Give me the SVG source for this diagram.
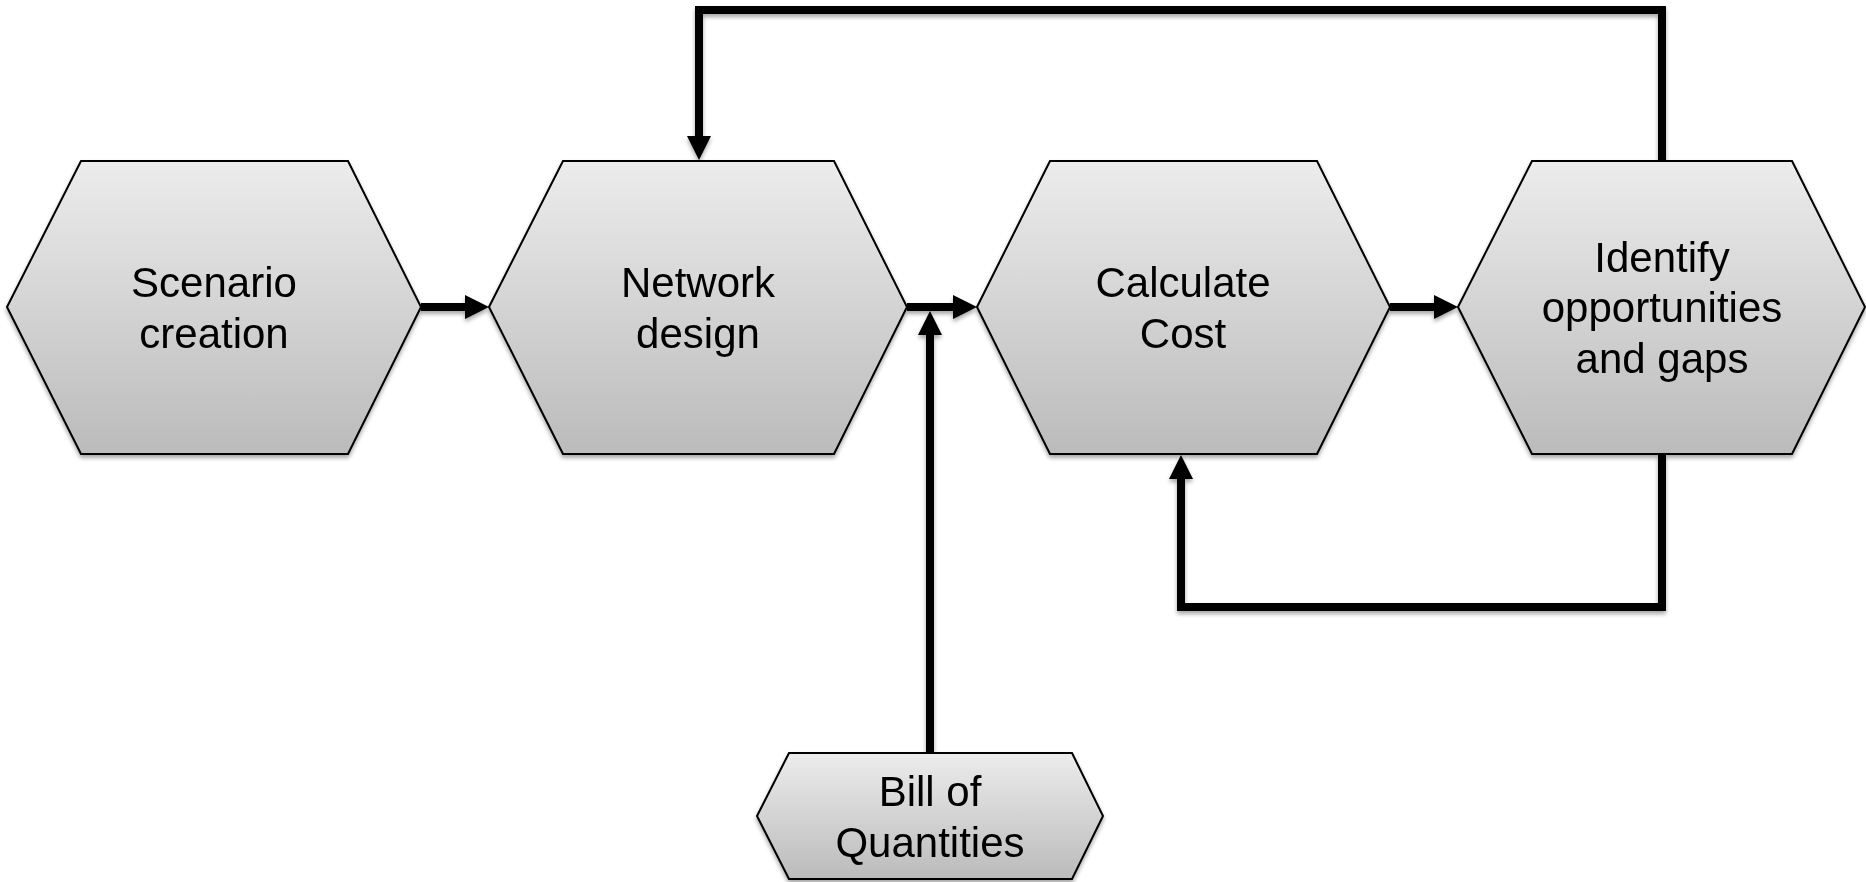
<svg xmlns="http://www.w3.org/2000/svg" width="1866" height="882" viewBox="0 0 1866 882">
  <style>
    .hex { fill: url(#hexFill); stroke: #000; stroke-width: 2; stroke-linejoin: miter; }
    .label { font-family: "Liberation Sans", Arial, sans-serif; font-size: 42px; fill: #000; text-anchor: middle; }
    .wire { fill: none; stroke: #000; stroke-width: 8; stroke-linecap: butt; stroke-linejoin: miter; }
    .arrow { marker-end: url(#head); }
  </style>
  <defs>
    <linearGradient id="hexFill" x1="0" y1="0" x2="0" y2="1">
      <stop offset="0" stop-color="#ececec"/>
      <stop offset="1" stop-color="#bbbbbb"/>
    </linearGradient>
    <filter id="shadow" x="-5%" y="-5%" width="110%" height="115%">
      <feGaussianBlur in="SourceAlpha" stdDeviation="2.2"/>
      <feOffset dx="0" dy="3" result="blur"/>
      <feComponentTransfer><feFuncA type="linear" slope="0.35"/></feComponentTransfer>
      <feMerge><feMergeNode/><feMergeNode in="SourceGraphic"/></feMerge>
    </filter>
    <marker id="head" markerUnits="userSpaceOnUse" viewBox="0 0 24 24" markerWidth="24" markerHeight="24" refX="1" refY="12" orient="auto">
      <path d="M0,0 L24,12 L0,24 Z" fill="#000"/>
    </marker>
  </defs>

  <!-- connectors -->
  <g id="connectors" filter="url(#shadow)">
    <path class="wire arrow" d="M421,307 L466,307"/>
    <path class="wire arrow" d="M907,307 L954,307"/>
    <path class="wire arrow" d="M1390,307 L1435,307"/>
    <path class="wire arrow" d="M930,753 L930,334"/>
    <path class="wire arrow" d="M1662,161 L1662,10 L699,10 L699,137"/>
    <path class="wire arrow" d="M1662,455 L1662,607 L1181,607 L1181,478"/>
  </g>

  <!-- process steps -->
  <g id="scenario-creation" filter="url(#shadow)">
    <polygon class="hex" points="7,307 81,161 348,161 421,307 348,454 81,454"/>
    <text class="label" x="214" y="297">Scenario</text>
    <text class="label" x="214" y="348">creation</text>
  </g>

  <g id="network-design" filter="url(#shadow)">
    <polygon class="hex" points="489,307 563,161 834,161 907,307 834,454 563,454"/>
    <text class="label" x="698" y="297">Network</text>
    <text class="label" x="698" y="348">design</text>
  </g>

  <g id="calculate-cost" filter="url(#shadow)">
    <polygon class="hex" points="977,307 1050,161 1317,161 1390,307 1317,454 1050,454"/>
    <text class="label" x="1183" y="297">Calculate</text>
    <text class="label" x="1183" y="348">Cost</text>
  </g>

  <g id="identify-opportunities" filter="url(#shadow)">
    <polygon class="hex" points="1458,307 1532,161 1792,161 1865,307 1792,454 1532,454"/>
    <text class="label" x="1662" y="272">Identify</text>
    <text class="label" x="1662" y="322">opportunities</text>
    <text class="label" x="1662" y="373">and gaps</text>
  </g>

  <g id="bill-of-quantities" filter="url(#shadow)">
    <polygon class="hex" points="757,816 789,753 1072,753 1103,816 1072,879 789,879"/>
    <text class="label" x="930" y="806">Bill of</text>
    <text class="label" x="930" y="857">Quantities</text>
  </g>
</svg>
